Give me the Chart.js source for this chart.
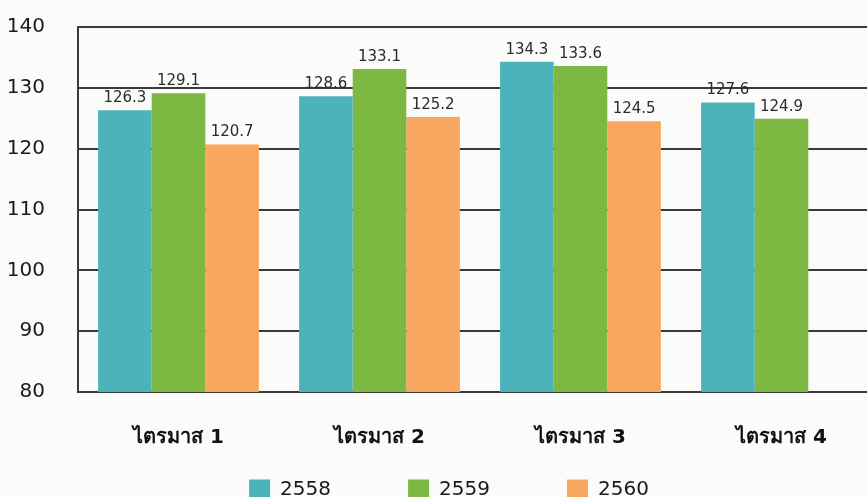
<!DOCTYPE html>
<html>
<head>
<meta charset="utf-8">
<script src="https://cdn.jsdelivr.net/npm/chart.js@4"></script>
<style>
  body { margin: 0; background: #fbfbf9; overflow: hidden; }
  #wrap { width: 885px; height: 512px; }
</style>
</head>
<body>
<div id="wrap"><canvas id="quarterChart"></canvas></div>
<script>
const quarters = ['ไตรมาส 1', 'ไตรมาส 2', 'ไตรมาส 3', 'ไตรมาส 4'];
const years = ['2558', '2559', '2560'];
const values2558 = [126.3, 128.6, 134.3, 127.6];
const values2559 = [129.1, 133.1, 133.6, 124.9];
const values2560 = [120.7, 125.2, 124.5, null];
const yTicks = [80, 90, 100, 110, 120, 130, 140];

const colors = ['#4db3ba', '#7db843', '#f9a75e'];
const fontFamily = 'Tahoma, "DejaVu Sans", sans-serif';

// value labels above each bar
const barLabels = {
  id: 'barLabels',
  afterLayout(chart) {
    // let the y tick labels use the space left of the axis box
    chart.scales.y.left = 0;
  },
  afterDatasetsDraw(chart) {
    const ctx = chart.ctx;
    ctx.save();
    ctx.font = '15px ' + fontFamily;
    ctx.fillStyle = '#2b2b2b';
    ctx.textAlign = 'center';
    ctx.textBaseline = 'alphabetic';
    chart.data.datasets.forEach((ds, i) => {
      chart.getDatasetMeta(i).data.forEach((bar, j) => {
        const v = ds.data[j];
        if (v === null) return;
        ctx.fillText(v.toFixed(1), bar.x, bar.y - 8);
      });
    });
    ctx.restore();
  }
};

const ctx = document.getElementById('quarterChart').getContext('2d');
new Chart(ctx, {
  type: 'bar',
  data: {
    labels: quarters,
    datasets: [
      { label: years[0], data: values2558, backgroundColor: colors[0], borderWidth: 0 },
      { label: years[1], data: values2559, backgroundColor: colors[1], borderWidth: 0 },
      { label: years[2], data: values2560, backgroundColor: colors[2], borderWidth: 0 },
    ]
  },
  options: {
    responsive: true,
    maintainAspectRatio: false,
    animation: false,
    layout: { padding: { left: 16, right: 3, top: 27, bottom: 1.5 } },
    datasets: { bar: { categoryPercentage: 0.8, barPercentage: 1.0 } },
    scales: {
      x: {
        grid: { display: false, drawTicks: false },
        border: { display: false },
        ticks: { padding: 34, color: '#111', font: { family: fontFamily, size: 20, weight: 'bold' } },
        afterFit(scale) { scale.height = 74; }
      },
      y: {
        min: 80,
        max: 140,
        afterBuildTicks(scale) { scale.ticks = yTicks.map(v => ({ value: v })); },
        grid: { color: '#3a3a3a', lineWidth: 2, drawTicks: false },
        border: { display: true, color: '#3a3a3a', width: 2 },
        ticks: { padding: 33, color: '#1a1a1a', font: { family: fontFamily, size: 20 } },
        afterFit(scale) {
          scale.width = 62;
          scale.paddingTop = 0;
          scale.paddingBottom = 0;
        }
      }
    },
    plugins: {
      legend: {
        position: 'bottom',
        labels: {
          boxWidth: 21,
          boxHeight: 21,
          padding: 13.5,
          color: '#1a1a1a',
          font: { family: fontFamily, size: 20 },
          generateLabels(chart) {
            const items = Chart.defaults.plugins.legend.labels.generateLabels(chart);
            // widen the gap between the legend entries
            items.forEach((it, i) => {
              if (i < items.length - 1) it.text = it.text + '\u00a0'.repeat(10);
            });
            return items;
          }
        }
      },
      tooltip: { enabled: false }
    }
  },
  plugins: [barLabels]
});
</script>
</body>
</html>
